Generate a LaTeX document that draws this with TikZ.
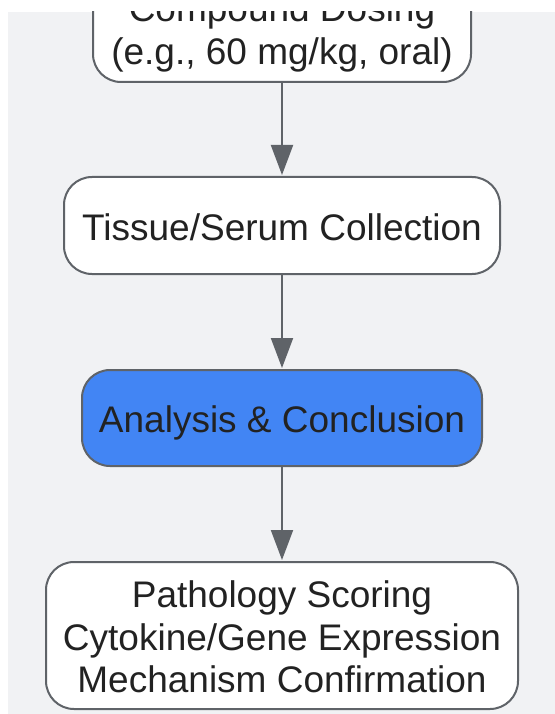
\documentclass[tikz,border=0pt]{standalone}
\usepackage{fontspec}
\setmainfont{Liberation Sans}
\usetikzlibrary{arrows.meta}
\definecolor{bgc}{HTML}{F1F2F4}
\definecolor{edgec}{HTML}{5F6368}
\definecolor{txtc}{HTML}{222222}
\definecolor{bluec}{HTML}{4285F4}
\newcommand\lnstrut{\rule[-8pt]{0pt}{45pt}}
\newcommand\flowfont{\fontsize{37}{42.5}\selectfont\lineskiplimit=-60pt\relax\lineskip=0pt\relax}
\tikzset{
  flowbox/.style={draw=edgec, line width=2pt, fill=white, rounded corners=28pt,
    inner sep=0pt, align=center, text=txtc, font=\flowfont},
  bluebox/.style={flowbox, fill=bluec},
  flowarrow/.style={draw=edgec, line width=2pt,
    -{Triangle[length=30pt,width=22pt]}, shorten >=1pt}
}
\begin{document}
\begin{tikzpicture}[x=1pt,y=-1pt]
\useasboundingbox (0,0) rectangle (554,714);
\clip (8,12) rectangle (570,730);
\fill[bgc] (8,12) rectangle (570,730);
\node[flowbox, minimum width=378pt, minimum height=106.5pt] (b1) at (282,28.75)
  {\lnstrut Compound Dosing\\\lnstrut (e.g., 60 mg/kg, oral)};
\node[flowbox, minimum width=436pt, minimum height=97pt] (b2) at (282,225.5)
  {\lnstrut Tissue/Serum Collection};
\node[bluebox, minimum width=400pt, minimum height=96pt] (b3) at (282,418)
  {\lnstrut Analysis \& Conclusion};
\node[flowbox, minimum width=472pt, minimum height=147pt] (b4) at (282,635.5)
  {\lnstrut Pathology Scoring\\\lnstrut Cytokine/Gene Expression\\\lnstrut Mechanism Confirmation};
\draw[flowarrow] (b1.south) -- (b2.north);
\draw[flowarrow] (b2.south) -- (b3.north);
\draw[flowarrow] (b3.south) -- (b4.north);
\end{tikzpicture}
\end{document}
